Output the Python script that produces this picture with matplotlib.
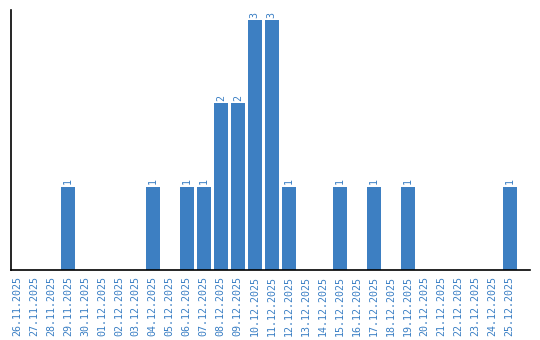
import matplotlib
matplotlib.use("Agg")
from matplotlib import pyplot as plt
import numpy as np

dates = ["26.11.2025", "27.11.2025", "28.11.2025", "29.11.2025", "30.11.2025",
         "01.12.2025", "02.12.2025", "03.12.2025", "04.12.2025", "05.12.2025",
         "06.12.2025", "07.12.2025", "08.12.2025", "09.12.2025", "10.12.2025",
         "11.12.2025", "12.12.2025", "13.12.2025", "14.12.2025", "15.12.2025",
         "16.12.2025", "17.12.2025", "18.12.2025", "19.12.2025", "20.12.2025",
         "21.12.2025", "22.12.2025", "23.12.2025", "24.12.2025", "25.12.2025"]
counts = [0, 0, 0, 1, 0,
          0, 0, 0, 1, 0,
          1, 1, 2, 2, 3,
          3, 1, 0, 0, 1,
          0, 1, 0, 1, 0,
          0, 0, 0, 0, 1]

bar_color = "#3d7fc2"
text_color = "#3a7fc4"

fig = plt.figure(figsize=(5.4, 3.4), dpi=100)
ax = fig.add_axes([11 / 540, 1 - 270 / 340, 519 / 540, 260 / 340])

x = np.arange(len(dates))
ax.bar(x, counts, width=0.82, color=bar_color)

for xi, c in zip(x, counts):
    if c > 0:
        ax.text(xi, c + 0.03, str(c), rotation=90, ha="center", va="bottom",
                color=text_color, fontsize=7.2, family="DejaVu Sans Mono")

ax.set_xlim(-0.35, 30.2)
ax.set_ylim(0, 3.12)
ax.set_xticks(x)
ax.set_xticklabels(dates, rotation=90, color=text_color, fontsize=7.2,
                   family="DejaVu Sans Mono")
ax.tick_params(axis="x", length=0, pad=4)
ax.set_yticks([])
ax.spines["top"].set_visible(False)
ax.spines["right"].set_visible(False)
ax.spines["left"].set_linewidth(1.2)
ax.spines["bottom"].set_linewidth(1.2)

fig.savefig("out.png", dpi=100)
